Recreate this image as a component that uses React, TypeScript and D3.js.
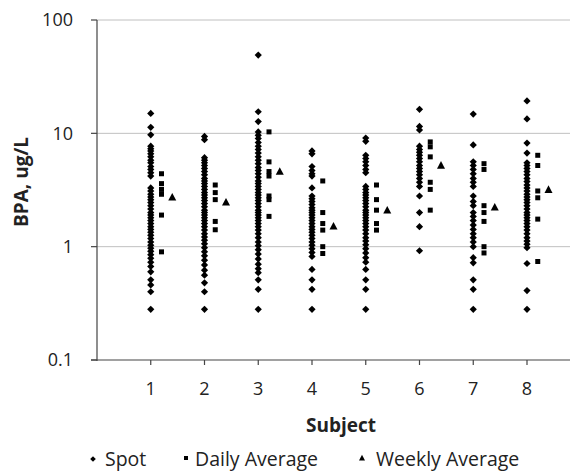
import React from 'react';
import * as d3 from 'd3';

const SUBJECTS = [1, 2, 3, 4, 5, 6, 7, 8];
const Y_TICKS = [0.1, 1, 10, 100];

// spot measurements per subject
const SPOT = [
  [15, 11.3, 9.7, 7.7, 7.3, 7.0, 6.6, 6.2, 5.8, 5.5, 5.1, 4.8, 4.5, 4.2, 3.3, 3.1, 2.9, 2.75, 2.6, 2.45, 2.3, 2.15, 2.0, 1.9, 1.8, 1.7, 1.6, 1.5, 1.42, 1.34, 1.26, 1.18, 1.1, 1.03, 0.97, 0.91, 0.85, 0.79, 0.73, 0.67, 0.6, 0.51, 0.46, 0.4, 0.28],
  [9.4, 8.8, 6.1, 5.8, 5.5, 5.2, 4.9, 4.6, 4.3, 4.0, 3.8, 3.6, 3.4, 3.2, 3.0, 2.85, 2.7, 2.55, 2.4, 2.25, 2.1, 2.0, 1.9, 1.8, 1.7, 1.6, 1.5, 1.4, 1.3, 1.22, 1.14, 1.06, 0.98, 0.9, 0.83, 0.76, 0.69, 0.62, 0.56, 0.48, 0.4, 0.28],
  [49, 15.5, 12.7, 10.3, 9.6, 9.0, 8.3, 7.7, 7.2, 6.7, 6.2, 5.8, 5.4, 5.0, 4.7, 4.4, 4.1, 3.8, 3.6, 3.4, 3.2, 3.0, 2.85, 2.7, 2.55, 2.4, 2.25, 2.1, 2.0, 1.9, 1.8, 1.7, 1.6, 1.5, 1.4, 1.3, 1.2, 1.1, 1.02, 0.94, 0.86, 0.78, 0.7, 0.64, 0.59, 0.51, 0.42, 0.28],
  [7.0, 6.6, 5.1, 4.7, 4.4, 4.2, 3.3, 2.8, 2.65, 2.5, 2.35, 2.2, 2.1, 2.0, 1.9, 1.8, 1.7, 1.6, 1.5, 1.42, 1.34, 1.26, 1.18, 1.1, 1.03, 0.96, 0.89, 0.82, 0.63, 0.51, 0.42, 0.28],
  [9.1, 8.5, 6.4, 6.0, 5.6, 5.2, 4.8, 4.5, 3.4, 3.2, 3.0, 2.85, 2.7, 2.55, 2.4, 2.25, 2.1, 2.0, 1.9, 1.8, 1.7, 1.6, 1.5, 1.4, 1.3, 1.2, 1.12, 1.04, 0.96, 0.88, 0.8, 0.73, 0.63, 0.51, 0.42, 0.28],
  [16.3, 11.5, 10.7, 7.7, 7.2, 6.8, 6.4, 6.0, 5.6, 5.2, 4.9, 4.6, 4.3, 4.0, 3.7, 3.4, 2.8, 2.0, 1.5, 0.92],
  [14.8, 7.9, 5.6, 5.2, 4.8, 4.4, 4.0, 3.7, 3.4, 2.8, 2.5, 2.3, 2.0, 1.85, 1.7, 1.55, 1.42, 1.3, 1.2, 1.1, 1.0, 0.8, 0.72, 0.51, 0.42, 0.28],
  [19.3, 13.4, 8.2, 6.7, 5.5, 5.2, 4.9, 4.6, 4.3, 4.0, 3.75, 3.5, 3.3, 3.1, 2.9, 2.75, 2.6, 2.45, 2.3, 2.15, 2.0, 1.9, 1.8, 1.7, 1.6, 1.5, 1.4, 1.3, 1.2, 1.12, 1.05, 0.98, 0.71, 0.41, 0.28],
];

const DAILY = [
  [4.4, 3.6, 3.2, 2.9, 1.9, 0.9],
  [3.5, 3.0, 2.6, 1.67, 1.41],
  [10.3, 5.6, 4.6, 4.2, 2.8, 2.6, 1.85],
  [3.8, 2.0, 1.6, 1.4, 1.0, 0.87],
  [3.5, 2.6, 2.1, 1.6, 1.4],
  [8.4, 7.6, 6.2, 3.7, 3.2, 2.1],
  [5.4, 4.8, 2.3, 2.0, 1.67, 1.0, 0.88],
  [6.4, 5.2, 3.1, 2.7, 1.75, 0.74],
];

const WEEKLY = [2.72, 2.46, 4.6, 1.51, 2.09, 5.2, 2.22, 3.18];

const FONT = '"Open Sans", Lato, sans-serif';

const diamond = (r: number) => `M0,${-r}L${r},0L0,${r}L${-r},0Z`;
const square = (s: number) => `M${-s / 2},${-s / 2}h${s}v${s}h${-s}Z`;
const triangle = (s: number) => `M0,${-s * 0.55}L${s / 2},${s * 0.4}L${-s / 2},${s * 0.4}Z`;

export default function App() {
  const width = 582;
  const height = 473;
  const margin = { top: 20, right: 12, bottom: 113, left: 97 };

  const x = d3.scaleLinear().domain([0, 8.8]).range([margin.left, width - margin.right]);
  const y = d3.scaleLog().domain([0.1, 100]).range([height - margin.bottom, margin.top]);

  const x0 = x(0);
  const x1 = width - margin.right;
  const yBottom = y(0.1);

  return (
    <svg width={width} height={height} style={{ position: 'absolute', left: 0, top: 0, background: '#fff' }}>
      {/* gridlines */}
      {Y_TICKS.filter(t => t > 0.1).map(t => (
        <line key={t} x1={x0} x2={x1} y1={y(t)} y2={y(t)} stroke="#c0c0c0" strokeWidth={1} />
      ))}

      {/* axes */}
      <line x1={x0} x2={x0} y1={y(100)} y2={yBottom + 1} stroke="#444" strokeWidth={1.2} />
      <line x1={x0 - 6} x2={x1} y1={yBottom} y2={yBottom} stroke="#444" strokeWidth={1.2} />
      {Y_TICKS.map(t => (
        <g key={t}>
          <line x1={x0 - 6} x2={x0} y1={y(t)} y2={y(t)} stroke="#444" strokeWidth={1.2} />
          <text x={x0 - 24} y={y(t)} dy="0.35em" textAnchor="end" fontFamily={FONT} fontSize={18} fill="#222">
            {t}
          </text>
        </g>
      ))}
      {SUBJECTS.map(s => (
        <g key={s}>
          <line x1={x(s)} x2={x(s)} y1={yBottom} y2={yBottom + 5} stroke="#444" strokeWidth={1.2} />
          <text x={x(s)} y={yBottom + 29} dy="0.35em" textAnchor="middle" fontFamily={FONT} fontSize={18} fill="#222">
            {s}
          </text>
        </g>
      ))}

      <text x={341} y={425} dy="0.35em" textAnchor="middle" fontFamily={FONT} fontSize={19} fontWeight="bold" fill="#222">
        Subject
      </text>
      <text transform={`translate(21,182) rotate(-90)`} dy="0.35em" textAnchor="middle" fontFamily={FONT} fontSize={19} fontWeight="bold" fill="#222">
        BPA, ug/L
      </text>

      {/* spot */}
      {SPOT.map((vals, i) =>
        vals.map((v, j) => (
          <path key={`s${i}-${j}`} d={diamond(3.6)} transform={`translate(${x(SUBJECTS[i])},${y(v)})`} fill="#000" />
        ))
      )}
      {/* daily */}
      {DAILY.map((vals, i) =>
        vals.map((v, j) => (
          <path key={`d${i}-${j}`} d={square(5)} transform={`translate(${x(SUBJECTS[i] + 0.2)},${y(v)})`} fill="#000" />
        ))
      )}
      {/* weekly */}
      {WEEKLY.map((v, i) => (
        <path key={`w${i}`} d={triangle(8)} transform={`translate(${x(SUBJECTS[i] + 0.4)},${y(v)})`} fill="#000" />
      ))}

      {/* legend */}
      <g fontFamily={FONT} fontSize={19.5} fill="#222">
        <path d={diamond(2.8)} transform="translate(93,459)" fill="#000" />
        <text x={105} y={466}>Spot</text>
        <path d={square(4)} transform="translate(186,458)" fill="#000" />
        <text x={195} y={466}>Daily Average</text>
        <path d={triangle(6)} transform="translate(362,458)" fill="#000" />
        <text x={376} y={466}>Weekly Average</text>
      </g>
    </svg>
  );
}
